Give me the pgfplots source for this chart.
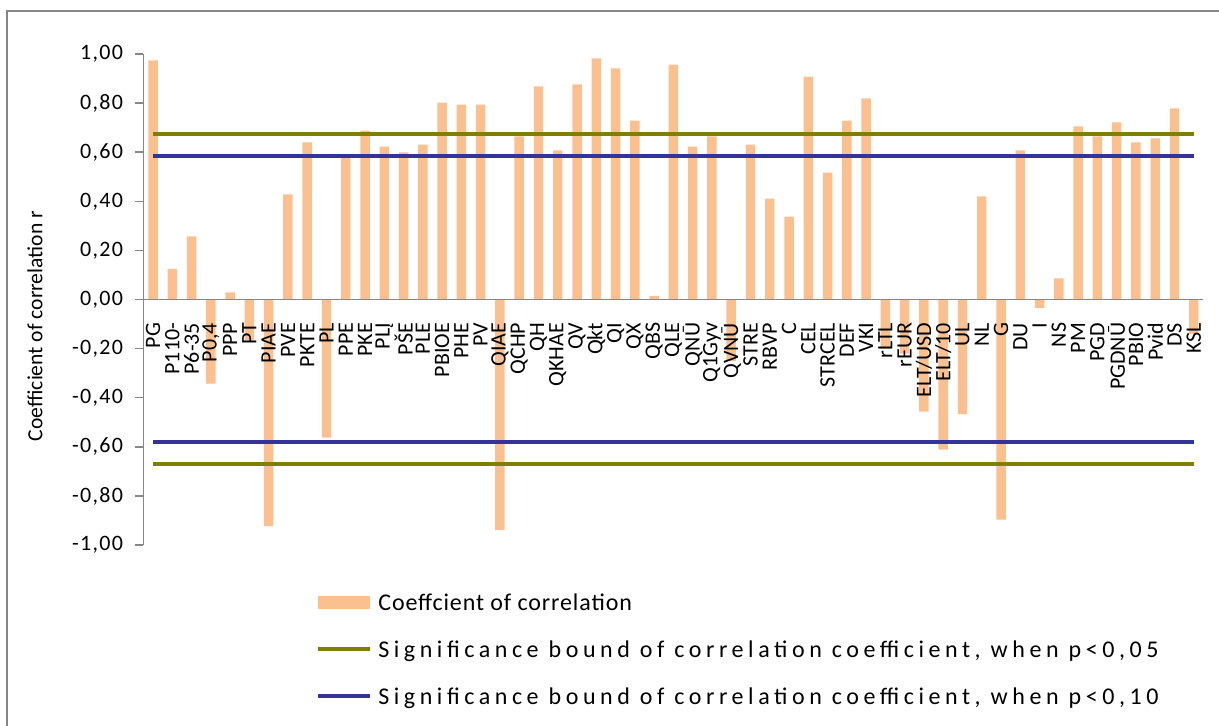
\documentclass[border=0pt]{standalone}
\usepackage{fontspec}
\setmainfont{Carlito}
\newfontfamily\tickfont{Carlito}[LetterSpace=6]
\newfontfamily\legA{Carlito}[LetterSpace=3.7]
\newfontfamily\legB{Carlito}[LetterSpace=19]
\usepackage{pgfplots}
\pgfplotsset{compat=1.18}
\definecolor{barc}{HTML}{FAC090}
\definecolor{olivec}{HTML}{808000}
\definecolor{bluec}{HTML}{333399}
\definecolor{axisgray}{HTML}{868686}
\pgfplotstableread{
x y
0 0.974
1 0.125
2 0.257
3 -0.343
4 0.029
5 -0.164
6 -0.923
7 0.428
8 0.640
9 -0.563
10 0.580
11 0.688
12 0.623
13 0.599
14 0.631
15 0.802
16 0.794
17 0.794
18 -0.938
19 0.664
20 0.868
21 0.607
22 0.876
23 0.982
24 0.941
25 0.729
26 0.015
27 0.957
28 0.623
29 0.664
30 -0.25
31 0.631
32 0.411
33 0.338
34 0.908
35 0.517
36 0.729
37 0.819
38 -0.2
39 -0.22
40 -0.457
41 -0.612
42 -0.467
43 0.420
44 -0.897
45 0.607
46 -0.034
47 0.086
48 0.705
49 0.664
50 0.721
51 0.640
52 0.656
53 0.778
54 -0.14
}\corr
\begin{document}
\begin{tikzpicture}
\path[use as bounding box] (0pt,0pt) rectangle (609.5pt,363pt);
\draw[axisgray, line width=1.3pt] (3.5pt,-2pt) -- (3.5pt,357.5pt) -- (612pt,357.5pt);
\begin{axis}[
  at={(71.7pt,90.5pt)}, anchor=south west,
  scale only axis, width=530pt, height=245.5pt,
  xmin=-0.5, xmax=54.5, ymin=-1, ymax=1,
  axis on top,
  axis x line=middle, axis y line=left,
  axis line style={draw=axisgray, line width=0.75pt, -},
  hide obscured x ticks=false, hide obscured y ticks=false,
  xtick={0,...,54},
  xticklabels={PG,P110-,P6-35,{P0,4},PPP,PT,PIAE,PVE,PKTE,PL,PPE,PKE,PLĮ,PŠE,PLE,PBIOE,PHE,PV,QIAE,QCHP,QH,QKHAE,QV,Qkt,QI,QX,QBS,QLE,QNŪ,Q1Gyv,QVNŪ,STRE,RBVP,C,CEL,STRCEL,DEF,VKI,rLTL,rEUR,ELT/USD,ELT/10,UL,NL,G,DU,I,NS,PM,PGD,PGDNŪ,PBIO,Pvid,DS,KSL},
  x tick label style={rotate=90, anchor=east, font=\fontsize{11}{13}\selectfont, inner xsep=7.5pt, inner ysep=0pt},
  x tick style={draw=none},
  ytick={-1,-0.8,-0.6,-0.4,-0.2,0,0.2,0.4,0.6,0.8,1},
  yticklabels={{-1,00},{-0,80},{-0,60},{-0,40},{-0,20},{0,00},{0,20},{0,40},{0,60},{0,80},{1,00}},
  y tick style={draw=axisgray, line width=0.75pt},
  tick align=outside, major tick length=4pt,
  y tick label style={font=\tickfont\fontsize{11}{13}\selectfont, anchor=east, inner sep=0pt, xshift=-6pt},
  ylabel={Coefficient of correlation r},
  ylabel style={at={(axis description cs:-0.1023,0.446)}, anchor=center, font=\fontsize{10.8}{13}\selectfont},
  legend image code/.code={\draw[#1] (0pt,0pt) -- (26pt,0pt);},
  legend style={draw=none, fill=none, at={(axis description cs:0.1571,-0.0854)}, anchor=north west,
    row sep=12pt, column sep=0pt, nodes={inner sep=0pt}, font=\fontsize{12}{14}\selectfont},
  legend cell align=left,
]
\addplot[ybar, bar width=0.49, fill=barc, draw=none,
  legend image code/.code={\fill[barc] (0pt,-3.25pt) rectangle (26pt,3.25pt);}] table[x=x,y=y] {\corr};
\addlegendentry{\hspace{3pt}\legA\strut Coeffcient of correlation}
\addplot[olivec, line width=2pt] coordinates {(0,0.675) (54,0.675)};
\addlegendentry{\hspace{3pt}\legB\strut Significance bound of correlation coefficient, when p<0,05}
\addplot[bluec, line width=2pt] coordinates {(0,0.585) (54,0.585)};
\addlegendentry{\hspace{3pt}\legB\strut Significance bound of correlation coefficient, when p<0,10}
\addplot[olivec, line width=2pt, forget plot] coordinates {(0,-0.67) (54,-0.67)};
\addplot[bluec, line width=2pt, forget plot] coordinates {(0,-0.58) (54,-0.58)};
\end{axis}
\end{tikzpicture}
\end{document}
